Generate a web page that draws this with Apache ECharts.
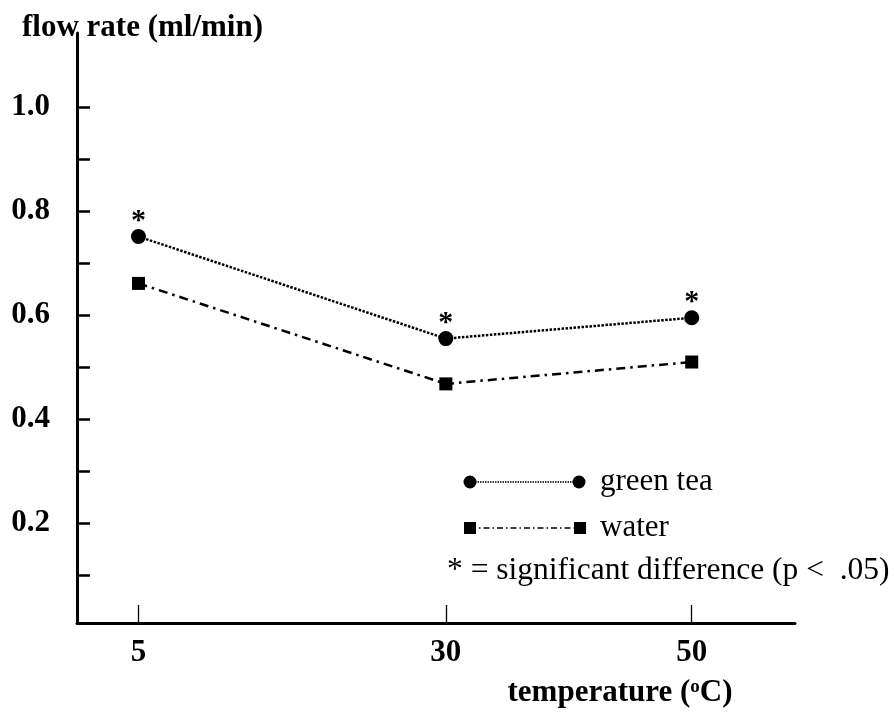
<!DOCTYPE html>
<html><head><meta charset="utf-8">
<script src="https://cdn.jsdelivr.net/npm/echarts@6/dist/echarts.min.js"></script>
<style>html,body{margin:0;padding:0;background:#fff}#c{width:894px;height:716px}</style>
</head><body><div id="c"></div>
<script>
// ---- data ----
const temperatures = [5, 30, 50];
const greenTea = [0.751, 0.555, 0.595];
const water = [0.661, 0.468, 0.510];
const significant = [true, true, true];
const xTickValues = [5, 30, 50];
const yTickValues = [0.1, 0.2, 0.3, 0.4, 0.5, 0.6, 0.7, 0.8, 0.9, 1.0];
const yLabelValues = [0.2, 0.4, 0.6, 0.8, 1.0];
const seriesNames = ['green tea', 'water'];
const yAxisTitle = 'flow rate (ml/min)';
const xAxisTitleParts = ['temperature (', 'o', 'C)'];
const sigNote = '* = significant difference (p <  .05)';

const FONT = '"Liberation Serif", "Times New Roman", serif';
const chart = echarts.init(document.getElementById('c'), null, {renderer: 'canvas'});

const greenData = temperatures.map((t, i) => [t, greenTea[i]]);
const waterData = temperatures.map((t, i) => [t, water[i]]);

const option = {
  backgroundColor: '#fff',
  animation: false,
  grid: {left: 77, right: 99, top: 33, bottom: 93, containLabel: false},
  xAxis: {
    type: 'value', min: 0, max: 58.4,
    axisLine: {show: true, lineStyle: {color: '#000', width: 3}},
    axisTick: {show: true, inside: true, length: 18, customValues: xTickValues, lineStyle: {color: '#000', width: 1.3}},
    axisLabel: {show: true, customValues: xTickValues, margin: 14, color: '#000',
      fontFamily: FONT, fontSize: 31, fontWeight: 'bold'},
    splitLine: {show: false}
  },
  yAxis: {
    type: 'value', min: 0.0087, max: 1.142,
    axisLine: {show: true, lineStyle: {color: '#000', width: 3}},
    axisTick: {show: true, inside: true, length: 13, customValues: yTickValues, lineStyle: {color: '#000', width: 2.5}},
    axisLabel: {show: true, customValues: yLabelValues, margin: 27, color: '#000',
      fontFamily: FONT, fontSize: 31, fontWeight: 'bold',
      formatter: v => Number(v).toFixed(1)},
    splitLine: {show: false}
  },
  series: [
    {
      name: seriesNames[0], type: 'line', data: greenData,
      symbol: 'circle', symbolSize: 15,
      itemStyle: {color: '#000'},
      lineStyle: {color: '#000', width: 2.5, type: [2.5, 1.5]},
      label: {show: true, position: 'top', distance: -7, color: '#000',
        fontFamily: FONT, fontSize: 30, fontWeight: 'bold',
        formatter: p => significant[p.dataIndex] ? '*' : ''},
      z: 3
    },
    {
      name: seriesNames[1], type: 'line', data: waterData,
      symbol: 'rect', symbolSize: 13,
      itemStyle: {color: '#000'},
      lineStyle: {color: '#000', width: 2.5, type: [9, 5, 2.5, 5]},
      z: 3
    }
  ],
  graphic: [
    {type: 'text', left: 22, top: 12,
      style: {text: yAxisTitle, fill: '#000', font: 'bold 31px ' + FONT}},
    {type: 'text', x: 620, y: 693,
      style: {
        text: '{b|' + xAxisTitleParts[0] + '}{s|' + xAxisTitleParts[1] + '}{b|' + xAxisTitleParts[2] + '}',
        textAlign: 'center', textVerticalAlign: 'middle', fill: '#000',
        rich: {
          b: {font: 'bold 31px ' + FONT, fill: '#000'},
          s: {font: 'bold 19px ' + FONT, fill: '#000', verticalAlign: 'top'}
        }
      }},
    // legend: green tea
    {type: 'line', shape: {x1: 470, y1: 482, x2: 579, y2: 482},
      style: {stroke: '#000', lineWidth: 1.6, lineDash: [1.5, 1]}},
    {type: 'circle', shape: {cx: 470, cy: 482, r: 6.5}, style: {fill: '#000'}},
    {type: 'circle', shape: {cx: 579, cy: 482, r: 6.5}, style: {fill: '#000'}},
    {type: 'text', x: 600, y: 482,
      style: {text: seriesNames[0], fill: '#000', font: '31px ' + FONT, textAlign: 'left', textVerticalAlign: 'middle'}},
    // legend: water
    {type: 'line', shape: {x1: 470, y1: 528, x2: 580, y2: 528},
      style: {stroke: '#000', lineWidth: 1.6, lineDash: [6, 3, 1.5, 3]}},
    {type: 'rect', shape: {x: 464, y: 522, width: 12, height: 12}, style: {fill: '#000'}},
    {type: 'rect', shape: {x: 574, y: 522, width: 12, height: 12}, style: {fill: '#000'}},
    {type: 'text', x: 600, y: 528,
      style: {text: seriesNames[1], fill: '#000', font: '31px ' + FONT, textAlign: 'left', textVerticalAlign: 'middle'}},
    // note
    {type: 'text', x: 447, y: 571,
      style: {text: sigNote, fill: '#000', font: '31.5px ' + FONT, textAlign: 'left', textVerticalAlign: 'middle'}}
  ]
};
chart.setOption(option);
</script></body></html>
